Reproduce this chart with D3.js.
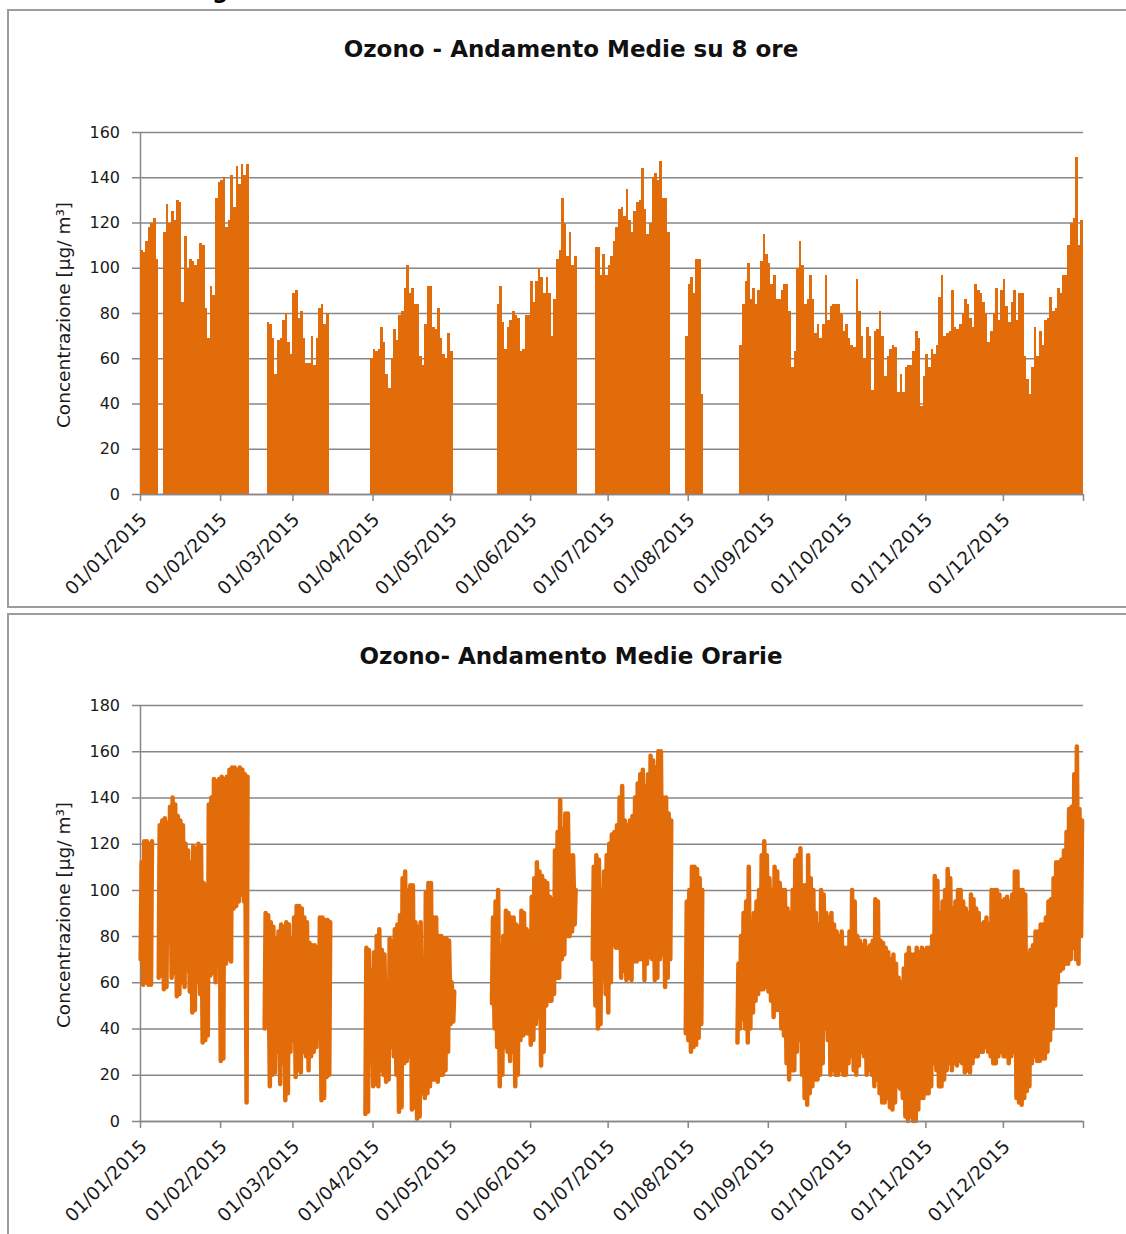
<!DOCTYPE html>
<html>
<head>
<meta charset="utf-8">
<script src="https://cdn.jsdelivr.net/npm/d3@7"></script>
<style>
  html, body { margin: 0; padding: 0; background: #fff; }
  svg { display: block; font-family: "DejaVu Sans", Verdana, sans-serif; }
</style>
</head>
<body>
<svg id="chart" width="1126" height="1234"></svg>
<script>
'use strict';

// testi
const titolo8h = 'Ozono - Andamento Medie su 8 ore';
const titoloOrarie = 'Ozono- Andamento Medie Orarie';
const titoloAsseY = 'Concentrazione [µg/ m³]';

// valori delle tacche
const tacche8h = [0, 20, 40, 60, 80, 100, 120, 140, 160];
const taccheOrarie = [0, 20, 40, 60, 80, 100, 120, 140, 160, 180];

// medie su 8 ore: un valore per giorno, a blocchi (il primo giorno di ogni blocco)
const inizi8h = ['2015-01-01', '2015-01-10', '2015-02-19', '2015-03-31', '2015-05-19', '2015-06-26', '2015-07-31', '2015-08-21'];
const m8_1 = [108, 107, 112, 118, 120, 122, 104];
const m8_2 = [116, 128, 120, 125, 121, 130, 129, 85, 114, 100, 104, 103, 101, 104, 111, 110, 82, 69, 92, 88,
	131, 138, 139, 140, 118, 121, 141, 127, 145, 137, 146, 141, 146];
const m8_3 = [76, 75, 69, 53, 68, 69, 77, 80, 67, 62, 89, 90, 78, 81, 69, 58, 58, 70, 57, 69, 82, 84, 75, 80];
const m8_4 = [60, 64, 63, 64, 74, 67, 53, 47, 60, 73, 68, 79, 81, 91, 101, 89, 91, 84, 84, 61, 57, 75, 92, 92,
	74, 73, 82, 69, 62, 60, 71, 63];
const m8_5 = [84, 92, 76, 64, 74, 77, 81, 79, 78, 63, 64, 79, 79, 94, 85, 94, 100, 96, 89, 96, 89, 70, 86, 104,
	108, 131, 120, 105, 116, 101, 105];
const m8_6 = [109, 109, 97, 106, 97, 101, 105, 112, 118, 126, 127, 123, 135, 121, 116, 125, 129, 130, 144, 126,
	115, 120, 140, 142, 139, 147, 131, 131, 116];
const m8_7 = [70, 93, 96, 89, 104, 104, 44];
const m8_8 = [66, 84, 94, 102, 86, 91, 84, 90,
	103, 115, 106, 102, 93, 97, 86, 86, 90, 93, 93, 81, 56, 63, 100, 112, 101, 84, 86, 97, 86, 71, 75, 69,
	75, 97, 77, 83, 84, 84, 84, 80, 72, 75, 69, 66, 65, 95, 81, 70, 60, 74, 70, 46, 72, 73, 81, 70, 52, 61,
	64, 66, 65, 45, 53, 45, 56, 57, 57, 63, 72, 69, 39, 52, 62, 56, 64, 62, 66, 87, 97, 70, 71, 72, 90, 74,
	73, 75, 80, 86, 84, 78, 74, 93, 90, 89, 85, 80, 67, 72, 80, 91, 77, 90, 95, 83, 76, 85, 90, 77, 89, 89,
	61, 51, 44, 56, 74, 61, 72, 66, 77, 78, 87, 81, 82, 91, 89, 97, 97, 110, 120, 122, 149, 110, 121];

// medie orarie: minimo (mattino) e massimo (pomeriggio) di ogni giorno, a blocchi
const iniziOrarie = ['2015-01-01', '2015-01-08', '2015-02-18', '2015-03-29', '2015-05-17', '2015-06-25', '2015-07-31', '2015-08-20'];
const maxOr_1 = [112, 121, 121, 120, 121];
const minOr_1 = [70, 59, 60, 59, 59];
const maxOr_2 = [128, 130, 131, 129, 136, 140, 137, 132, 130, 128, 120, 117, 112, 119, 118, 120, 119, 103, 102, 137,
	140, 148, 147, 148, 149, 148, 149, 152, 153, 153, 152, 153, 152, 150, 149];
const minOr_2 = [62, 63, 57, 58, 82, 62, 64, 54, 55, 60, 58, 65, 56, 47, 48, 60, 55, 34, 35, 37,
	63, 64, 60, 78, 26, 27, 68, 70, 69, 92, 93, 95, 98, 95, 8];
const maxOr_3 = [90, 89, 86, 84, 79, 82, 85, 84, 86, 85, 79, 88, 93, 93, 92, 88, 86, 77, 76, 76, 75, 88, 88, 87, 87, 86];
const minOr_3 = [40, 42, 15, 20, 21, 30, 16, 25, 9, 12, 30, 35, 19, 22, 21, 30, 28, 22, 28, 30, 32, 40, 9, 10, 19, 20];
const maxOr_4 = [75, 74, 65, 73, 80, 83, 74, 72, 60, 79, 78, 83, 85, 89, 105, 108, 100, 102, 102, 86,
	84, 86, 70, 99, 103, 103, 88, 88, 80, 80, 79, 79, 78, 60, 56];
const minOr_4 = [3, 4, 27, 15, 16, 15, 22, 20, 17, 18, 32, 28, 20, 4, 6, 25, 26, 28, 5, 6,
	1, 2, 12, 10, 12, 15, 18, 18, 17, 20, 20, 22, 30, 42, 43];
const maxOr_5 = [88, 95, 100, 76, 80, 91, 90, 88, 88, 85, 84, 91, 90, 83, 82, 97, 105, 112, 108, 106,
	104, 103, 97, 96, 117, 125, 139, 126, 133, 133, 115, 115, 100];
const minOr_5 = [51, 40, 32, 15, 20, 32, 30, 26, 30, 15, 20, 35, 37, 38, 38, 33, 35, 42, 45, 24,
	30, 50, 52, 52, 55, 62, 62, 70, 72, 80, 80, 82, 85];
const maxOr_6 = [110, 115, 113, 100, 108, 115, 120, 124, 125, 128, 140, 145, 130, 128, 130, 132, 140, 146, 150, 152,
	145, 150, 158, 156, 153, 160, 160, 140, 140, 133, 130];
const minOr_6 = [70, 50, 40, 42, 62, 55, 47, 60, 76, 75, 75, 62, 65, 61, 62, 61, 69, 69, 70, 70,
	61, 68, 71, 70, 61, 62, 70, 72, 58, 62, 70];
const maxOr_7 = [95, 100, 110, 110, 109, 105, 100];
const minOr_7 = [38, 35, 30, 32, 33, 36, 42];
const maxOr_8 = [68, 80, 90, 95, 110, 84, 90, 95, 100, 115, 121, 115, 105, 100, 110, 108, 103, 100, 100, 92,
	90, 100, 113, 115, 118, 102, 102, 115, 105, 100, 90, 85, 100, 98, 90, 88, 90, 85, 82, 80,
	82, 75, 75, 82, 100, 95, 80, 78, 76, 78, 75, 76, 78, 96, 95, 78, 77, 75, 73, 70,
	72, 68, 62, 60, 66, 72, 75, 72, 72, 75, 73, 75, 74, 75, 75, 80, 106, 104, 90, 95,
	100, 109, 105, 92, 95, 100, 100, 95, 92, 90, 98, 96, 92, 90, 85, 86, 88, 85, 100, 100,
	100, 98, 95, 96, 97, 95, 98, 108, 108, 100, 100, 98, 72, 74, 76, 82, 82, 85, 85, 88,
	95, 96, 105, 112, 112, 113, 117, 125, 135, 136, 150, 162, 135, 130];
const minOr_8 = [34, 40, 44, 40, 34, 40, 47, 52, 55, 57, 57, 58, 56, 52, 45, 48, 48, 40, 37, 25,
	18, 22, 22, 30, 35, 20, 10, 7, 12, 15, 18, 18, 20, 25, 40, 35, 20, 22, 20, 20,
	22, 20, 20, 25, 28, 22, 20, 24, 30, 28, 20, 22, 20, 15, 18, 12, 8, 8, 10, 6,
	5, 8, 15, 14, 10, 2, 0, 2, 0, 0, 5, 10, 10, 12, 12, 15, 25, 22, 15, 15,
	18, 22, 25, 22, 25, 24, 26, 25, 21, 22, 21, 25, 28, 28, 30, 30, 32, 30, 28, 25,
	25, 28, 30, 28, 28, 25, 28, 30, 10, 8, 7, 10, 13, 15, 25, 28, 26, 26, 27, 27,
	30, 35, 40, 50, 60, 65, 66, 68, 68, 70, 75, 70, 68, 80];

const blocchi8h = [m8_1, m8_2, m8_3, m8_4, m8_5, m8_6, m8_7, m8_8];
const blocchiMax = [maxOr_1, maxOr_2, maxOr_3, maxOr_4, maxOr_5, maxOr_6, maxOr_7, maxOr_8];
const blocchiMin = [minOr_1, minOr_2, minOr_3, minOr_4, minOr_5, minOr_6, minOr_7, minOr_8];

// ---- disegno ----
const ARANCIO = '#e36c0a';
const GRIGIO = '#878787';
const xL = 140, xR = 1083;

const svg = d3.select('#chart');
const parse = d3.utcParse('%Y-%m-%d');
const fmt = d3.utcFormat('%d/%m/%Y');

const x = d3.scaleUtc()
	.domain([Date.UTC(2015, 0, 1), Date.UTC(2016, 0, 1)])
	.range([xL, xR]);
const mesi = d3.utcMonth.range(new Date(Date.UTC(2015, 0, 1)), new Date(Date.UTC(2016, 0, 2)));

// frammento del titolo della pagina sopra, tagliato come nell'originale
svg.append('text')
	.attr('x', 212).attr('y', -2)
	.attr('font-weight', 'bold').attr('font-size', 23)
	.text('g');

function pannello(cfg) {
	const g = svg.append('g');

	g.append('rect')
		.attr('x', 8).attr('y', cfg.top)
		.attr('width', 1130).attr('height', cfg.height)
		.attr('fill', 'none').attr('stroke', '#9c9c9c').attr('stroke-width', 2);

	g.append('text')
		.attr('x', 571).attr('y', cfg.titleY)
		.attr('text-anchor', 'middle')
		.attr('font-weight', 'bold').attr('font-size', 23)
		.attr('fill', '#111')
		.text(cfg.titolo);

	const y = d3.scaleLinear().domain([0, cfg.max]).range([cfg.y0, cfg.y1]);

	// asse y con griglia
	const ay = g.append('g')
		.attr('transform', `translate(${xL},0)`)
		.call(d3.axisLeft(y).tickValues(cfg.tacche).tickSize(8).tickPadding(12).tickSizeOuter(0));
	ay.selectAll('.tick line').attr('x1', xR - xL).attr('x2', -8)
		.attr('stroke', GRIGIO).attr('stroke-width', 1.5);
	ay.select('.domain').attr('stroke', GRIGIO).attr('stroke-width', 1.5);
	ay.selectAll('.tick text').attr('font-size', 16).attr('fill', '#1a1a1a')
		.attr('font-family', '"DejaVu Sans", Verdana, sans-serif');

	g.append('text')
		.attr('transform', `translate(64,${(cfg.y0 + cfg.y1) / 2 + 2}) rotate(-90)`)
		.attr('text-anchor', 'middle').attr('dy', '0.35em')
		.attr('font-size', 18.5).attr('fill', '#1a1a1a')
		.text(titoloAsseY);

	cfg.serie(g, y);

	// asse x
	const ax = g.append('g')
		.attr('transform', `translate(0,${cfg.y0})`)
		.call(d3.axisBottom(x).tickValues(mesi).tickSize(7).tickSizeOuter(0)
			.tickFormat(d => d.getUTCFullYear() === 2015 ? fmt(d) : ''));
	ax.selectAll('.tick line').attr('stroke', GRIGIO).attr('stroke-width', 1.5);
	ax.select('.domain').attr('stroke', GRIGIO).attr('stroke-width', 1.5);
	ax.selectAll('.tick text')
		.attr('font-size', 18.5).attr('fill', '#1a1a1a')
		.attr('font-family', '"DejaVu Sans", Verdana, sans-serif')
		.attr('text-anchor', 'end')
		.attr('x', 0).attr('y', 0).attr('dy', '0.35em')
		.attr('transform', 'translate(3,22) rotate(-45)');
}

// medie su 8 ore: colonne
pannello({
	top: 10, height: 597, titleY: 57, titolo: titolo8h,
	max: 160, tacche: tacche8h, y0: 494, y1: 132,
	serie: function (g, y) {
		const giorni = [];
		blocchi8h.forEach(function (valori, i) {
			const t0 = parse(inizi8h[i]);
			valori.forEach(function (v, k) {
				giorni.push({ t: d3.utcDay.offset(t0, k), v: v });
			});
		});
		g.append('g')
			.attr('shape-rendering', 'crispEdges')
			.selectAll('rect')
			.data(giorni)
			.join('rect')
			.attr('x', d => x(d.t))
			.attr('width', d => x(d3.utcDay.offset(d.t, 1)) - x(d.t))
			.attr('y', d => y(d.v))
			.attr('height', d => y(0) - y(d.v))
			.attr('fill', ARANCIO);
	}
});

// medie orarie: linea spessa
pannello({
	top: 614, height: 640, titleY: 664, titolo: titoloOrarie,
	max: 180, tacche: taccheOrarie, y0: 1121, y1: 705,
	serie: function (g, y) {
		const line = d3.line().x(d => x(d.t)).y(d => y(d.v));
		iniziOrarie.forEach(function (inizio, i) {
			const t0 = parse(inizio);
			const punti = [];
			blocchiMax[i].forEach(function (hi, k) {
				const giorno = d3.utcDay.offset(t0, k);
				punti.push({ t: d3.utcHour.offset(giorno, 6), v: blocchiMin[i][k] });
				punti.push({ t: d3.utcHour.offset(giorno, 15), v: hi });
			});
			g.append('path')
				.datum(punti)
				.attr('d', line)
				.attr('fill', 'none')
				.attr('stroke', ARANCIO)
				.attr('stroke-width', 4.5)
				.attr('stroke-linejoin', 'round')
				.attr('stroke-linecap', 'round');
		});
	}
});
</script>
</body>
</html>
